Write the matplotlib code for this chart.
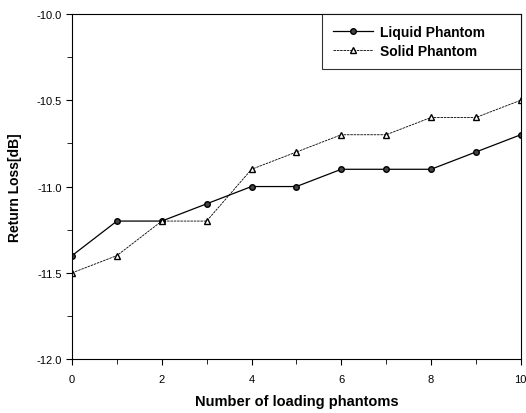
import matplotlib
matplotlib.use("Agg")
import matplotlib.pyplot as plt
from matplotlib.ticker import MultipleLocator

plt.rcParams['font.family'] = ['Liberation Sans', 'DejaVu Sans']

n_phantoms = [0, 1, 2, 3, 4, 5, 6, 7, 8, 9, 10]
liquid = [-11.4, -11.2, -11.2, -11.1, -11.0, -11.0, -10.9, -10.9, -10.9, -10.8, -10.7]
solid = [-11.5, -11.4, -11.2, -11.2, -10.9, -10.8, -10.7, -10.7, -10.6, -10.6, -10.5]


def main():
    fig = plt.figure(figsize=(5.26, 4.14), dpi=100)
    ax = fig.add_axes([0.137, 0.130, 0.853, 0.834])

    ax.plot(n_phantoms, liquid, color='black', linewidth=0.9, marker='o',
            markersize=4, markerfacecolor='#444444', markeredgecolor='black',
            label='Liquid Phantom')
    ax.plot(n_phantoms, solid, color='black', linewidth=0.6, linestyle=(0, (3, 1)),
            marker='^', markersize=5, markerfacecolor='white',
            markeredgecolor='black', label='Solid Phantom')

    ax.set_xlim(0, 10)
    ax.set_ylim(-12.0, -10.0)
    ax.xaxis.set_major_locator(MultipleLocator(2))
    ax.xaxis.set_minor_locator(MultipleLocator(1))
    ax.yaxis.set_major_locator(MultipleLocator(0.5))
    ax.yaxis.set_minor_locator(MultipleLocator(0.25))
    ax.yaxis.set_major_formatter(plt.FormatStrFormatter('%.1f'))
    ax.tick_params(which='both', direction='out', top=False, right=False,
                   labelsize=8)
    ax.tick_params(which='major', length=4.5)
    ax.tick_params(which='minor', length=3.5)
    ax.tick_params(axis='x', pad=6)
    ax.tick_params(axis='y', pad=3)

    ax.set_xlabel('Number of loading phantoms', fontsize=10.5, fontweight='bold')
    ax.set_ylabel('Return Loss[dB]', fontsize=10, fontweight='bold')
    ax.xaxis.set_label_coords(0.5, -0.101)
    ax.yaxis.set_label_coords(-0.111, 0.5)

    leg = ax.legend(loc='upper right', bbox_to_anchor=(0.557, 0.0, 0.443, 1.0),
                    mode='expand', frameon=True, fancybox=False,
                    edgecolor='black', borderaxespad=0, borderpad=0.8,
                    handlelength=2.9, handletextpad=0.5, labelspacing=0.35,
                    prop={'weight': 'bold', 'size': 10})
    leg.get_frame().set_linewidth(0.8)

    fig.savefig('out.png', dpi=100)


if __name__ == '__main__':
    main()
